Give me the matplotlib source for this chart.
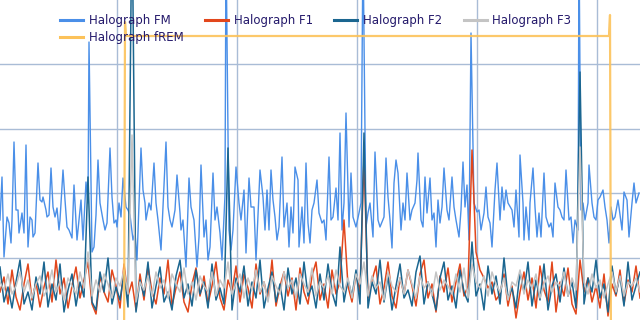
import numpy as np
import matplotlib
matplotlib.use("Agg")
import matplotlib.pyplot as plt

# FM channel (time, amplitude)
fm_t = [0, 2, 4, 7, 9, 11, 12, 14, 16, 18, 19, 22, 24, 26, 28, 30, 32, 33, 35, 38,
        40, 42, 43, 46, 47, 49, 51, 53, 55, 57, 59, 60, 63, 65, 67, 69, 72, 74, 77, 79,
        81, 83, 86, 88, 89, 92, 94, 96, 98, 100, 103, 105, 107, 110, 112, 114, 116, 117, 119, 121,
        123, 126, 128, 130, 133, 135, 137, 141, 143, 145, 146, 149, 151, 154, 156, 158, 161, 163, 166, 168,
        170, 172, 175, 177, 180, 181, 183, 186, 189, 191, 194, 197, 199, 201, 204, 206, 208, 210, 213, 215,
        217, 220, 222, 225, 226, 229, 231, 233, 236, 239, 241, 244, 246, 249, 251, 254, 256, 260, 263, 265,
        267, 269, 271, 273, 275, 277, 279, 282, 284, 287, 289, 291, 293, 295, 298, 299, 302, 304, 306, 308,
        310, 312, 314, 317, 319, 322, 324, 326, 329, 331, 333, 336, 338, 340, 342, 344, 346, 349, 351, 353,
        356, 359, 361, 363, 366, 368, 370, 373, 375, 378, 380, 384, 386, 388, 390, 392, 394, 396, 398, 401,
        403, 405, 407, 410, 412, 415, 417, 418, 421, 423, 425, 427, 430, 432, 434, 436, 438, 440, 442, 444,
        447, 449, 452, 454, 456, 459, 461, 463, 465, 467, 469, 471, 474, 477, 479, 481, 484, 486, 488, 490,
        492, 495, 497, 500, 502, 504, 506, 508, 512, 514, 516, 519, 520, 523, 524, 526, 529, 530, 533, 535,
        537, 539, 541, 544, 546, 549, 551, 553, 555, 558, 560, 562, 564, 566, 569, 571, 573, 575, 578, 579,
        581, 583, 585, 588, 589, 592, 594, 596, 598, 600, 603, 605, 607, 609, 611, 613, 615, 618, 619, 622,
        624, 627, 629, 632, 634, 636, 639]
fm = [102, 145, 65, 105, 99, 79, 102, 180, 112, 112, 89, 109, 89, 177, 75, 105, 102, 85, 89, 159,
      122, 120, 125, 112, 105, 107, 154, 115, 105, 114, 92, 102, 152, 122, 95, 92, 84, 137, 82, 102,
      122, 82, 140, 119, 280, 70, 75, 107, 162, 119, 102, 92, 99, 174, 125, 99, 102, 95, 119, 105,
      144, 115, 112, 107, 82, 89, 62, 174, 132, 119, 102, 119, 112, 159, 119, 102, 72, 115, 180, 115,
      102, 95, 112, 147, 109, 92, 102, 55, 144, 115, 102, 55, 85, 157, 85, 102, 62, 75, 149, 102,
      115, 89, 62, 127, 380, 92, 72, 92, 155, 119, 102, 132, 69, 144, 115, 115, 62, 152, 125, 92,
      132, 92, 152, 122, 105, 82, 95, 165, 95, 119, 75, 115, 89, 155, 142, 75, 115, 79, 159, 99,
      79, 112, 119, 142, 109, 99, 102, 82, 165, 102, 105, 134, 102, 189, 92, 119, 209, 95, 149, 105,
      95, 109, 119, 380, 95, 109, 119, 85, 170, 102, 95, 105, 164, 125, 102, 74, 139, 162, 149, 92,
      119, 102, 149, 102, 112, 119, 142, 169, 102, 95, 145, 109, 144, 102, 109, 75, 122, 99, 115, 154,
      112, 102, 145, 115, 102, 85, 112, 160, 115, 137, 82, 289, 119, 110, 112, 92, 109, 135, 105, 99,
      75, 132, 159, 102, 135, 112, 132, 119, 112, 95, 132, 85, 167, 119, 82, 115, 82, 119, 154, 115,
      85, 109, 85, 149, 105, 95, 99, 85, 139, 115, 112, 105, 102, 152, 102, 105, 79, 102, 92, 380,
      112, 119, 102, 119, 157, 119, 105, 102, 122, 125, 132, 115, 102, 79, 115, 102, 105, 122, 115, 92,
      130, 122, 85, 119, 139, 119, 129]

# F1 / F2 / F3 channels, one sample every 4 time units
f1 = [30, 45, 18, 52, 25, 12, 38, 58, 22, 40,
      15, 35, 50, 20, 62, 28, 44, 14, 36, 55,
      24, 42, 60, 18, 8, 46, 30, 20, 52, 36,
      14, 58, 26, 40, 12, 48, 22, 56, 30, 18,
      44, 28, 62, 16, 34, 50, 20, 10, 38, 54,
      26, 46, 18, 36, 60, 24, 12, 42, 30, 56,
      20, 48, 34, 14, 58, 28, 40, 22, 62, 16,
      36, 50, 26, 44, 12, 54, 30, 18, 46, 60,
      22, 38, 14, 52, 28, 40, 102, 36, 20, 48,
      30, 165, 24, 42, 56, 18, 34, 60, 26, 14,
      44, 28, 52, 36, 16, 48, 62, 24, 38, 10,
      46, 30, 54, 20, 40, 58, 26, 36, 172, 70,
      52, 44, 34, 40, 22, 28, 48, 16, 36, 4,
      30, 50, 22, 44, 14, 56, 32, 20, 60, 10,
      40, 26, 54, 18, 8, 62, 30, 44, 20, 36,
      14, 48, 6, 38, 26, 52, 18, 42, 30, 56,
      24]
f2 = [55, 20, 35, 14, 40, 62, 18, 30, 12, 45,
      28, 60, 15, 38, 22, 58, 10, 32, 48, 16,
      40, 25, 145, 20, 12, 50, 30, 64, 18, 35,
      22, 48, 15, 420, 10, 42, 26, 60, 14, 36,
      55, 20, 30, 12, 46, 62, 24, 38, 16, 52,
      28, 40, 14, 58, 22, 34, 18, 174, 12, 44,
      30, 56, 16, 40, 24, 62, 14, 34, 50, 20,
      38, 12, 54, 28, 44, 18, 60, 26, 36, 14,
      48, 22, 58, 30, 16, 75, 20, 42, 26, 52,
      18, 189, 14, 40, 28, 62, 20, 46, 12, 36,
      58, 24, 32, 16, 50, 66, 18, 40, 28, 12,
      44, 60, 22, 36, 14, 52, 30, 20, 80, 26,
      38, 12, 56, 28, 46, 18, 64, 24, 34, 14,
      50, 30, 60, 16, 42, 22, 58, 12, 36, 48,
      20, 54, 26, 40, 14, 250, 18, 44, 30, 62,
      24, 38, 10, 56, 28, 46, 16, 60, 22, 36,
      50]
f3 = [40, 32, 48, 28, 36, 50, 30, 42, 24, 38,
      46, 26, 34, 52, 30, 40, 22, 44, 36, 28,
      50, 34, 70, 26, 42, 30, 48, 38, 24, 44,
      36, 52, 28, 187, 20, 40, 32, 46, 26, 50,
      34, 42, 24, 48, 38, 30, 54, 28, 40, 22,
      46, 36, 30, 50, 26, 42, 34, 60, 28, 38,
      48, 24, 44, 32, 52, 30, 40, 20, 46, 36,
      28, 50, 34, 42, 24, 48, 38, 30, 54, 26,
      40, 34, 46, 28, 52, 36, 30, 44, 24, 48,
      38, 60, 26, 46, 34, 40, 22, 50, 36, 30,
      44, 28, 52, 38, 24, 46, 34, 40, 26, 50,
      32, 42, 36, 28, 48, 30, 54, 24, 58, 40,
      34, 46, 26, 50, 38, 30, 44, 22, 40, 36,
      52, 28, 42, 34, 48, 24, 38, 46, 30, 40,
      36, 50, 26, 44, 32, 175, 40, 28, 48, 34,
      42, 24, 38, 50, 30, 46, 26, 40, 36, 44,
      30]
f_t = np.arange(len(f1)) * 4

# fREM step trace
frem_t = [0, 124, 125, 126, 609, 610, 611, 640]
frem = [-40, -40, 300, 286, 286, 307, -40, -40]

labels = ["Halograph FM", "Halograph F1", "Halograph F2", "Halograph F3", "Halograph fREM"]
colors = ["#4a8fe8", "#e2471c", "#1b6690", "#c4c4c4", "#fcc25a"]

fig = plt.figure(figsize=(6.4, 3.2), dpi=100)
ax = fig.add_axes([0, 0, 1, 1])

l_fm, = ax.plot(fm_t, fm, color=colors[0], lw=1.0)
l_f1, = ax.plot(f_t, f1, color=colors[1], lw=1.1)
l_f2, = ax.plot(f_t, f2, color=colors[2], lw=1.1)
l_f3, = ax.plot(f_t, f3, color=colors[3], lw=1.1)
l_rem, = ax.plot(frem_t, frem, color=colors[4], lw=1.6, alpha=0.9)

ax.set_xlim(0, 640)
ax.set_ylim(2, 322)
ax.set_xticks(np.arange(117, 640, 120))
ax.set_yticks(np.arange(1, 5) * 64.5)
ax.grid(True, color="#a9bcd6", lw=1)
ax.set_axisbelow(True)
ax.tick_params(length=0, labelbottom=False, labelleft=False)
for s in ax.spines.values():
    s.set_visible(False)

leg = ax.legend([l_fm, l_rem, l_f1, l_f2, l_f3],
                [labels[0], labels[4], labels[1], labels[2], labels[3]],
                ncol=4, loc="upper left", bbox_to_anchor=(60 / 640, 1 - 14 / 320),
                frameon=False, fontsize=8.5, borderpad=0, borderaxespad=0,
                handlelength=1.95, handletextpad=0.5, columnspacing=1.8,
                labelspacing=0.35)
for txt in leg.get_texts():
    txt.set_color("#24196b")
for h in leg.get_lines():
    h.set_linewidth(2.2)
    h.set_alpha(1)

fig.savefig("out.png", dpi=100)
